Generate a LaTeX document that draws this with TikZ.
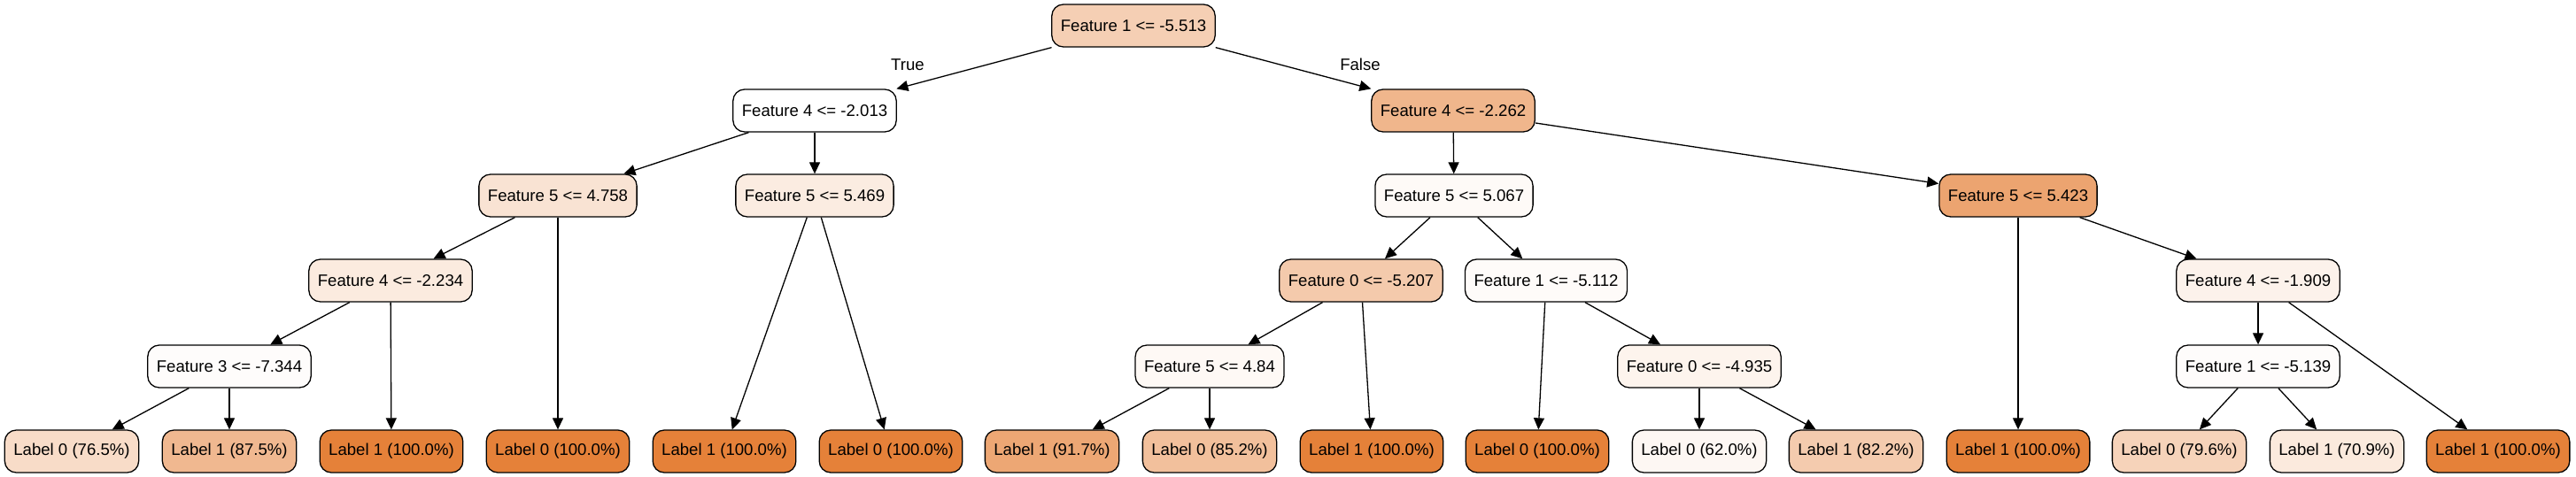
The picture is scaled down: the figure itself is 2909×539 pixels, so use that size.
\documentclass[tikz,border=0pt]{standalone}
\usepackage{fontspec}
\setmainfont{Liberation Sans}
\usepackage{xcolor}
\usetikzlibrary{arrows.meta}
\definecolor{treeorange}{HTML}{E58139}

\begin{document}
\begin{tikzpicture}[x=0.5pt, y=-0.5pt,
    treenode/.style={draw, line width=0.65pt, rounded corners=6.5pt, minimum height=24pt,
        inner xsep=5pt, inner ysep=0pt, font=\fontsize{9.3}{11}\selectfont, fill=treeorange!#1!white},
    treenode/.default=0,
    branch/.style={-{Triangle[length=6.5pt, width=6pt]}, line width=0.65pt},
    edgelabel/.style={font=\fontsize{9.3}{11}\selectfont}]
\useasboundingbox (0,0) rectangle (2909,539);

% Root
\node[treenode=38] (root) at (1280,29) {Feature 1 <= -5.513};

% Depth 1
\node[treenode=0]  (fa) at (920,125)  {Feature 4 <= -2.013};
\node[treenode=58] (fb) at (1641,125) {Feature 4 <= -2.262};

% Depth 2
\node[treenode=22] (faa) at (630,221)  {Feature 5 <= 4.758};
\node[treenode=15] (fab) at (920,221)  {Feature 5 <= 5.469};
\node[treenode=4]  (fba) at (1642,221) {Feature 5 <= 5.067};
\node[treenode=72] (fbb) at (2279,221) {Feature 5 <= 5.423};

% Depth 3
\node[treenode=16] (faaa) at (441,317)  {Feature 4 <= -2.234};
\node[treenode=42] (fbaa) at (1537,317) {Feature 0 <= -5.207};
\node[treenode=3]  (fbab) at (1746,317) {Feature 1 <= -5.112};
\node[treenode=10] (fbbb) at (2550,317) {Feature 4 <= -1.909};

% Depth 4
\node[treenode=2] (faaaa) at (259,414)  {Feature 3 <= -7.344};
\node[treenode=5] (fbaaa) at (1366,414) {Feature 5 <= 4.84};
\node[treenode=9] (fbabb) at (1919,414) {Feature 0 <= -4.935};
\node[treenode=2] (fbbba) at (2550,414) {Feature 1 <= -5.139};

% Leaves
\node[treenode=28]  (leafa) at (81,510)   {Label 0 (76.5\%)};
\node[treenode=56]  (leafb) at (259,510)  {Label 1 (87.5\%)};
\node[treenode=100] (leafc) at (442,510)  {Label 1 (100.0\%)};
\node[treenode=100] (leafd) at (630,510)  {Label 0 (100.0\%)};
\node[treenode=100] (leafe) at (818,510)  {Label 1 (100.0\%)};
\node[treenode=100] (leaff) at (1006,510) {Label 0 (100.0\%)};
\node[treenode=70]  (leafg) at (1188,510) {Label 1 (91.7\%)};
\node[treenode=50]  (leafh) at (1366,510) {Label 0 (85.2\%)};
\node[treenode=100] (leafi) at (1549,510) {Label 1 (100.0\%)};
\node[treenode=100] (leafj) at (1736,510) {Label 0 (100.0\%)};
\node[treenode=6]   (leafk) at (1919,510) {Label 0 (62.0\%)};
\node[treenode=41]  (leafl) at (2096,510) {Label 1 (82.2\%)};
\node[treenode=100] (leafm) at (2279,510) {Label 1 (100.0\%)};
\node[treenode=35]  (leafn) at (2461,510) {Label 0 (79.6\%)};
\node[treenode=17]  (leafo) at (2639,510) {Label 1 (70.9\%)};
\node[treenode=100] (leafp) at (2821,510) {Label 1 (100.0\%)};

% Branch labels
\node[edgelabel] (ltrue)  at (1025,73) {True};
\node[edgelabel] (lfalse) at (1536,73) {False};

% Branches
\draw[branch] (root) -- (fa);
\draw[branch] (root) -- (fb);
\draw[branch] (fa) -- (faa);
\draw[branch] (fa) -- (fab);
\draw[branch] (fb) -- (fba);
\draw[branch] (fb) -- (fbb);
\draw[branch] (faa) -- (faaa);
\draw[branch] (faa) -- (leafd);
\draw[branch] (fab) -- (leafe);
\draw[branch] (fab) -- (leaff);
\draw[branch] (faaa) -- (faaaa);
\draw[branch] (faaa) -- (leafc);
\draw[branch] (faaaa) -- (leafa);
\draw[branch] (faaaa) -- (leafb);
\draw[branch] (fba) -- (fbaa);
\draw[branch] (fba) -- (fbab);
\draw[branch] (fbaa) -- (fbaaa);
\draw[branch] (fbaa) -- (leafi);
\draw[branch] (fbaaa) -- (leafg);
\draw[branch] (fbaaa) -- (leafh);
\draw[branch] (fbab) -- (leafj);
\draw[branch] (fbab) -- (fbabb);
\draw[branch] (fbabb) -- (leafk);
\draw[branch] (fbabb) -- (leafl);
\draw[branch] (fbb) -- (leafm);
\draw[branch] (fbb) -- (fbbb);
\draw[branch] (fbbb) -- (fbbba);
\draw[branch] (fbbb) -- (leafp);
\draw[branch] (fbbba) -- (leafn);
\draw[branch] (fbbba) -- (leafo);

\end{tikzpicture}
\end{document}
